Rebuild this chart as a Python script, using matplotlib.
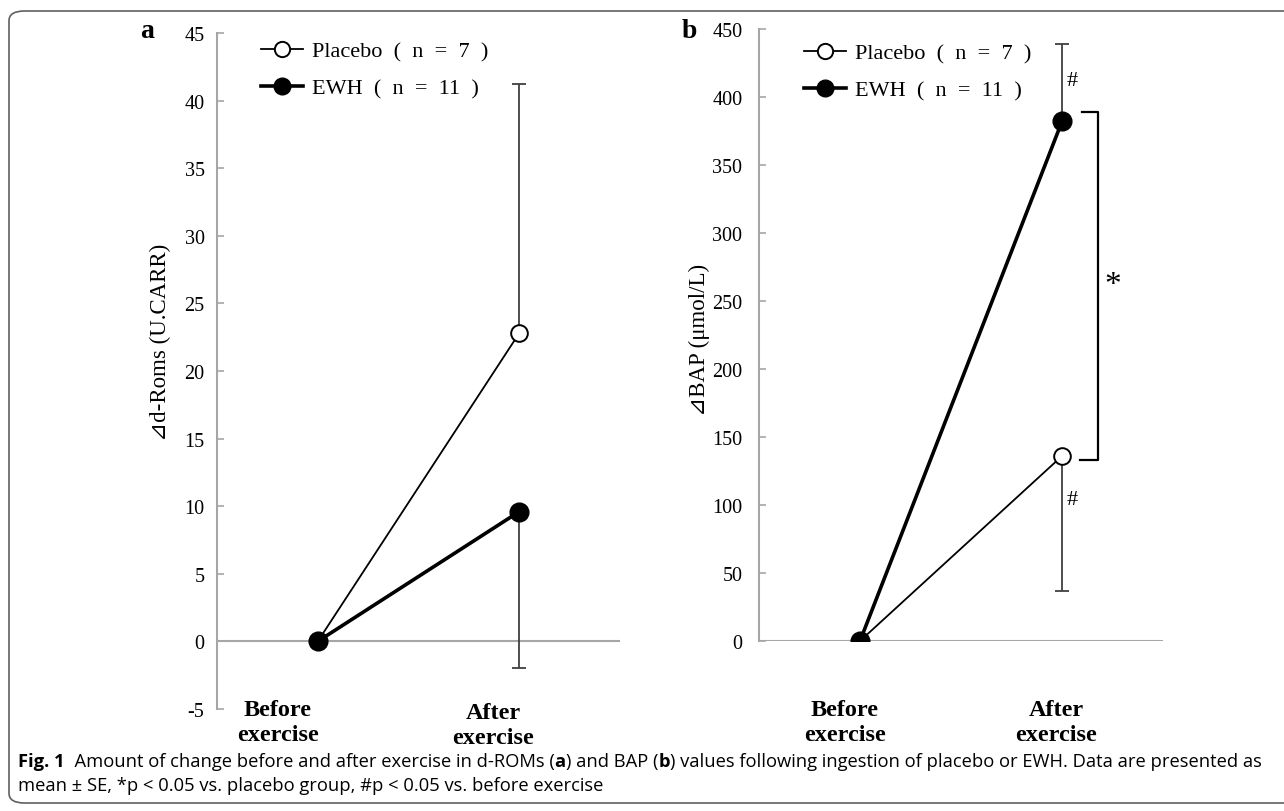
import matplotlib
matplotlib.use("Agg")
import matplotlib.pyplot as plt
from matplotlib.lines import Line2D
from matplotlib.patches import FancyBboxPatch
from matplotlib import font_manager

plt.rcParams["axes.unicode_minus"] = False

# data
x_pos = [1, 3]
x_labels = ["Before\nexercise", "After\nexercise"]

# panel a: d-ROMs
roms_placebo = [0, 22.8]
roms_placebo_up = [0, 18.4]
roms_ewh = [0, 9.6]
roms_ewh_down = [0, 11.6]

# panel b: BAP
bap_placebo = [0, 136]
bap_placebo_down = [0, 99]
bap_ewh = [0, 382]
bap_ewh_up = [0, 57]

serif = ["Liberation Serif", "DejaVu Serif", "DejaVu Sans"]
names = {f.name for f in font_manager.fontManager.ttflist}
cap_font = "Liberation Sans Narrow" if "Liberation Sans Narrow" in names else "Open Sans"

W, H = 1284, 812
fig = plt.figure(figsize=(W / 100, H / 100), dpi=100)
grey = "#a6a6a6"


def px_axes(l, t, r, b):
    return fig.add_axes([l / W, 1 - b / H, (r - l) / W, (b - t) / H])


def style(ax, ylim, yticks, pad):
    ax.set_xlim(0, 4)
    ax.set_ylim(*ylim)
    ax.set_yticks(yticks)
    ax.set_xticks([])
    for s in ["top", "right", "bottom"]:
        ax.spines[s].set_visible(False)
    ax.spines["left"].set_color(grey)
    ax.spines["left"].set_linewidth(1.5)
    ax.tick_params(axis="y", direction="in", length=5, width=1.2, color=grey,
                   labelsize=14.5, pad=pad)
    for lab in ax.get_yticklabels():
        lab.set_family(serif)
    ax.axhline(0, color=grey, lw=1.5, zorder=1)
    ax.patch.set_alpha(0)


def draw(ax, placebo, p_err, ewh, e_err):
    ax.errorbar(x_pos, placebo, yerr=p_err, fmt="none", ecolor="#404040",
                elinewidth=1.3, capsize=5, capthick=1.3, zorder=2)
    ax.errorbar(x_pos, ewh, yerr=e_err, fmt="none", ecolor="#404040",
                elinewidth=1.3, capsize=5, capthick=1.3, zorder=2)
    ax.plot(x_pos, placebo, color="black", lw=1.3, marker="o", ms=12,
            mfc="white", mec="black", mew=1.4, zorder=3)
    ax.plot(x_pos, ewh, color="black", lw=2.6, marker="o", ms=13.5,
            mfc="black", mec="black", zorder=4)


def legend(ax, x, y):
    handles = [
        Line2D([], [], color="black", lw=1.3, marker="o", ms=11, mfc="white", mew=1.4),
        Line2D([], [], color="black", lw=2.6, marker="o", ms=12, mfc="black"),
    ]
    labels = ["Placebo  (  n  =  7  )", "EWH  (  n  =  11  )"]
    ax.legend(handles, labels, loc="upper left", bbox_to_anchor=(x / W, 1 - y / H),
              bbox_transform=fig.transFigure, frameon=False, borderpad=0,
              borderaxespad=0, handlelength=1.9, handletextpad=0.4,
              labelspacing=0.75, prop={"family": serif, "size": 16})


# ---- panel a ----
ax_a = px_axes(217, 34, 620, 710)
style(ax_a, (-5, 45), range(-5, 50, 5), 9)
draw(ax_a, roms_placebo, [[0, 0], roms_placebo_up], roms_ewh, [roms_ewh_down, [0, 0]])
legend(ax_a, 261, 42)
fig.text(160 / W, 1 - 342 / H, "⊿d-Roms (U.CARR)", family=serif, fontsize=16.5,
         rotation=90, ha="center", va="center")

# ---- panel b ----
ax_b = px_axes(759, 30, 1163, 642)
style(ax_b, (0, 450), range(0, 500, 50), 12)
draw(ax_b, bap_placebo, [bap_placebo_down, [0, 0]], bap_ewh, [[0, 0], bap_ewh_up])
legend(ax_b, 804, 44)
fig.text(699 / W, 1 - 340 / H, "⊿BAP (μmol/L)", family=serif, fontsize=16.5,
         rotation=90, ha="center", va="center")

# significance marks
ax_b.text(3.1, 412, "#", family=serif, fontsize=16, ha="center", va="center")
ax_b.text(3.1, 104, "#", family=serif, fontsize=16, ha="center", va="center")
ax_b.plot([3.2, 3.36, 3.36, 3.18], [389, 389, 133, 133], color="black", lw=1.6)
ax_b.text(3.5, 262, "*", family=serif, fontsize=24, ha="center", va="center")

# category labels below the axes
for xc, yc, txt in [(278, 723, x_labels[0]), (493, 726, x_labels[1]),
                    (845, 723, x_labels[0]), (1056, 723, x_labels[1])]:
    fig.text(xc / W, 1 - yc / H, txt, family=serif, fontsize=17.5, weight="bold",
             ha="center", va="center", linespacing=1.2)

# panel letters
fig.text(147 / W, 1 - 32 / H, "a", family=serif, fontsize=20, weight="bold",
         ha="center", va="center")
fig.text(689 / W, 1 - 32 / H, "b", family=serif, fontsize=20, weight="bold",
         ha="center", va="center")

# frame around the figure
fig.patches.append(FancyBboxPatch((9 / W, 8 / H), 1.2, (802 - 10) / H,
                                  boxstyle="round,pad=0,rounding_size=0.012",
                                  transform=fig.transFigure, fill=False,
                                  edgecolor="#606060", lw=1.2))

# caption, written run by run so some words can be bold
renderer = fig.canvas.get_renderer()


def runs(parts, x, y, size):
    for txt, bold in parts:
        t = fig.text(x / W, 1 - y / H, txt, family=cap_font, fontsize=size,
                     weight="bold" if bold else "normal", va="center", ha="left")
        x += t.get_window_extent(renderer).width


cap_size = 13.2
runs([("Fig. 1", True),
      ("  Amount of change before and after exercise in d-ROMs (", False), ("a", True),
      (") and BAP (", False), ("b", True),
      (") values following ingestion of placebo or EWH. Data are presented as", False)],
     18, 762, cap_size)
runs([("mean ± SE, *p < 0.05 vs. placebo group, #p < 0.05 vs. before exercise", False)],
     18, 786, cap_size)

fig.savefig("out.png", dpi=100)
